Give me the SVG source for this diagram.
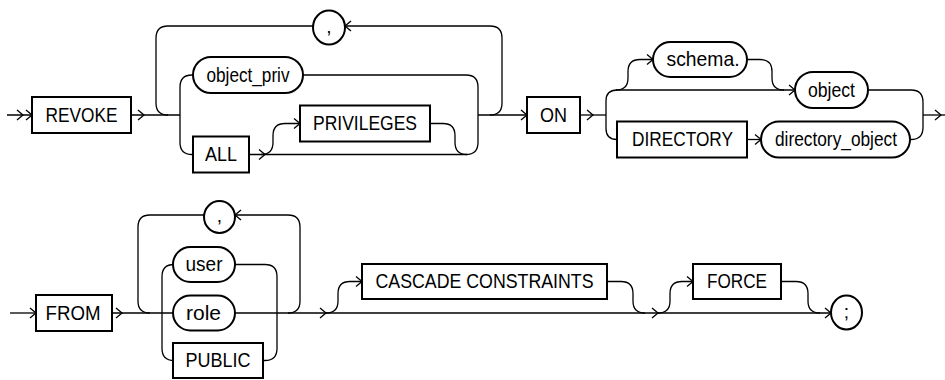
<svg xmlns="http://www.w3.org/2000/svg" xmlns:xlink="http://www.w3.org/1999/xlink" width="945" height="380" viewBox="0 0 945 380">
<style>
.box{fill:#fff;stroke:#000;stroke-width:2}
.ln{fill:none;stroke:#000;stroke-width:1.3}
.t{font-family:"Liberation Sans Narrow","Liberation Sans",Arial,sans-serif;font-size:21px;fill:#000;text-anchor:middle}
.p{font-size:19px}
</style>
<defs>
<path id="ar" d="M-6,-5 L0,0 L-6,5" fill="none" stroke="#000" stroke-width="1.3"/>
<path id="al" d="M6,-5 L0,0 L6,5" fill="none" stroke="#000" stroke-width="1.3"/>
</defs>
<rect width="945" height="380" fill="#fff"/>
<g id="connectors">
<path class="ln" d="M7,115 H180"/>
<use xlink:href="#ar" x="23" y="115"/>
<use xlink:href="#ar" x="32" y="115"/>
<use xlink:href="#ar" x="144" y="115"/>
<path class="ln" d="M168,115 Q156,115 156,103 V38 Q156,26 168,26 H490 Q502,26 502,38 V103 Q502,115 490,115"/>
<use xlink:href="#al" x="345" y="26"/>
<path class="ln" d="M193,75 H192 Q180,75 180,87 V142.5 Q180,154.5 192,154.5 H193"/>
<path class="ln" d="M303,75 H466 Q478,75 478,87 V142.5 Q478,154.5 466,154.5 H249"/>
<path class="ln" d="M261,154.5 Q273,154.5 273,142.5 V135.5 Q273,123.5 285,123.5 H300"/>
<use xlink:href="#ar" x="265" y="154.5"/>
<use xlink:href="#ar" x="300" y="123.5"/>
<path class="ln" d="M430,123.5 H443 Q455,123.5 455,135.5 V142.5 Q455,154.5 467,154.5"/>
<path class="ln" d="M478,115 H527"/>
<use xlink:href="#ar" x="527" y="115"/>
<path class="ln" d="M580,115 H606"/>
<use xlink:href="#ar" x="593" y="115"/>
<path class="ln" d="M617,90 Q606,90 606,101 V128.5 Q606,139.5 617,139.5"/>
<path class="ln" d="M617,90 H795"/>
<path class="ln" d="M616,90 Q628,90 628,78 V71.5 Q628,59.5 640,59.5 H653"/>
<use xlink:href="#ar" x="653" y="59.5"/>
<path class="ln" d="M747,59.5 H760 Q772,59.5 772,71.5 V78 Q772,90 784,90"/>
<use xlink:href="#ar" x="795" y="90"/>
<path class="ln" d="M747,139.5 H761"/>
<use xlink:href="#ar" x="761" y="139.5"/>
<path class="ln" d="M868,90 H911 Q923,90 923,102 V127.5 Q923,139.5 911,139.5 H910"/>
<path class="ln" d="M923,115 H945"/>
<use xlink:href="#ar" x="941" y="115"/>
<path class="ln" d="M10,313 H36"/>
<use xlink:href="#ar" x="36" y="313"/>
<path class="ln" d="M112,313 H173"/>
<use xlink:href="#ar" x="122" y="313"/>
<path class="ln" d="M150,313 Q138,313 138,301 V227 Q138,215 150,215 H288 Q300,215 300,227 V301 Q300,313 288,313"/>
<use xlink:href="#al" x="235" y="215"/>
<path class="ln" d="M174,264.5 Q162,264.5 162,276.5 V348.5 Q162,360.5 174,360.5"/>
<path class="ln" d="M235,264.5 H265 Q277,264.5 277,276.5 V348.5 Q277,360.5 265,360.5 H263"/>
<path class="ln" d="M235,313 H831"/>
<use xlink:href="#ar" x="326" y="313"/>
<path class="ln" d="M326,313 Q338,313 338,301 V293.5 Q338,281.5 350,281.5 H362"/>
<use xlink:href="#ar" x="362" y="281.5"/>
<path class="ln" d="M607,281.5 H621 Q633,281.5 633,293.5 V301 Q633,313 645,313"/>
<use xlink:href="#ar" x="658" y="313"/>
<path class="ln" d="M658,313 Q670,313 670,301 V293.5 Q670,281.5 682,281.5 H693"/>
<use xlink:href="#ar" x="693" y="281.5"/>
<path class="ln" d="M781,281.5 H796 Q808,281.5 808,293.5 V301 Q808,313 820,313"/>
<use xlink:href="#ar" x="831" y="313"/>
</g>
<g id="n_revoke"><rect class="box" x="32" y="97" width="99" height="36"/><text class="t" x="81.5" y="121.5" textLength="72" lengthAdjust="spacingAndGlyphs">REVOKE</text></g>
<g id="n_comma1"><ellipse class="box" cx="329" cy="27.5" rx="16" ry="17"/><text class="t p" x="329" y="32.5">,</text></g>
<g id="n_object_priv"><rect class="box" x="193" y="57" width="110" height="36" rx="18" ry="18"/><text class="t" x="248" y="81.5" textLength="83" lengthAdjust="spacingAndGlyphs">object_priv</text></g>
<g id="n_all"><rect class="box" x="193" y="136.5" width="56" height="36"/><text class="t" x="221" y="161" textLength="32" lengthAdjust="spacingAndGlyphs">ALL</text></g>
<g id="n_privileges"><rect class="box" x="300" y="105.5" width="130" height="36"/><text class="t" x="365" y="130" textLength="104" lengthAdjust="spacingAndGlyphs">PRIVILEGES</text></g>
<g id="n_on"><rect class="box" x="527" y="97" width="53" height="36"/><text class="t" x="553.5" y="121.5" textLength="27" lengthAdjust="spacingAndGlyphs">ON</text></g>
<g id="n_schema"><rect class="box" x="653" y="42" width="94" height="35" rx="17.5" ry="17.5"/><text class="t" x="703" y="66" textLength="73" lengthAdjust="spacingAndGlyphs">schema.</text></g>
<g id="n_object"><rect class="box" x="795" y="72" width="73" height="36" rx="18" ry="18"/><text class="t" x="831.5" y="96.5" textLength="47" lengthAdjust="spacingAndGlyphs">object</text></g>
<g id="n_directory"><rect class="box" x="617" y="121.5" width="130" height="36"/><text class="t" x="682.5" y="146" textLength="101" lengthAdjust="spacingAndGlyphs">DIRECTORY</text></g>
<g id="n_directory_object"><rect class="box" x="761" y="121.5" width="149" height="36" rx="18" ry="18"/><text class="t" x="836" y="146" textLength="122" lengthAdjust="spacingAndGlyphs">directory_object</text></g>
<g id="n_from"><rect class="box" x="36" y="295" width="76" height="36"/><text class="t" x="73" y="319.5" textLength="55" lengthAdjust="spacingAndGlyphs">FROM</text></g>
<g id="n_comma2"><ellipse class="box" cx="219.5" cy="217" rx="15.5" ry="16"/><text class="t p" x="219.5" y="222">,</text></g>
<g id="n_user"><rect class="box" x="173" y="247" width="62" height="35" rx="17.5" ry="17.5"/><text class="t" x="204" y="271" textLength="37" lengthAdjust="spacingAndGlyphs">user</text></g>
<g id="n_role"><rect class="box" x="173" y="295.5" width="62" height="35" rx="17.5" ry="17.5"/><text class="t" x="203.5" y="319.5" textLength="35" lengthAdjust="spacingAndGlyphs">role</text></g>
<g id="n_public"><rect class="box" x="173" y="343" width="90" height="35"/><text class="t" x="218" y="367" textLength="65" lengthAdjust="spacingAndGlyphs">PUBLIC</text></g>
<g id="n_cascade"><rect class="box" x="362" y="264" width="245" height="35"/><text class="t" x="484.5" y="288" textLength="218" lengthAdjust="spacingAndGlyphs">CASCADE CONSTRAINTS</text></g>
<g id="n_force"><rect class="box" x="693" y="264" width="88" height="35"/><text class="t" x="737" y="288" textLength="60" lengthAdjust="spacingAndGlyphs">FORCE</text></g>
<g id="n_semicolon"><ellipse class="box" cx="846.5" cy="312.5" rx="15.5" ry="17"/><text class="t p" x="846.5" y="318">;</text></g>
</svg>
